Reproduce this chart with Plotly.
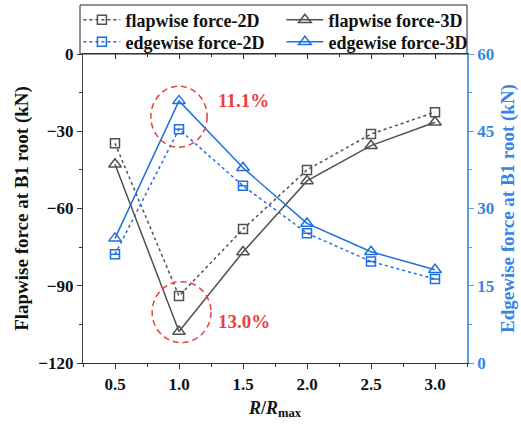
import plotly.graph_objects as go

r_ratio = [0.5, 1.0, 1.5, 2.0, 2.5, 3.0]
flap_2d = [-34.7, -94.0, -68.0, -45.0, -31.1, -22.6]
flap_3d = [-42.8, -107.8, -76.9, -49.3, -35.6, -26.5]
edge_2d = [21.1, 45.4, 34.4, 25.2, 19.7, 16.3]
edge_3d = [24.2, 50.9, 37.9, 27.1, 21.6, 18.1]
left_ticks = [0, -30, -60, -90, -120]
right_ticks = [0, 15, 30, 45, 60]
x_ticks = [0.5, 1.0, 1.5, 2.0, 2.5, 3.0]

GRAY = "#505050"
BLUE = "#1f6fe3"
AXBLUE = "#5b9be8"
LBLUE = "#3385e6"
RED = "#e8413f"
FONT = "Liberation Serif"

fig = go.Figure()
fig.add_trace(go.Scatter(x=r_ratio, y=flap_2d, name="<b>flapwise force-2D</b>", mode="lines+markers",
                         legend="legend",
                         line=dict(color=GRAY, width=1.5, dash="3px,3px"),
                         marker=dict(symbol="square-open", size=9, color=GRAY, line=dict(width=1.5))))
fig.add_trace(go.Scatter(x=r_ratio, y=flap_3d, name="<b>flapwise force-3D</b>", mode="lines+markers",
                         legend="legend",
                         line=dict(color=GRAY, width=1.5),
                         marker=dict(symbol="triangle-up-open", size=11, color=GRAY, line=dict(width=1.5))))
fig.add_trace(go.Scatter(x=r_ratio, y=edge_2d, name="<b>edgewise force-2D</b>", mode="lines+markers",
                         yaxis="y2", legend="legend2",
                         line=dict(color=BLUE, width=1.5, dash="3px,3px"),
                         marker=dict(symbol="square-open", size=9, color=BLUE, line=dict(width=1.5))))
fig.add_trace(go.Scatter(x=r_ratio, y=edge_3d, name="<b>edgewise force-3D</b>", mode="lines+markers",
                         yaxis="y2", legend="legend2",
                         line=dict(color=BLUE, width=1.5),
                         marker=dict(symbol="triangle-up-open", size=11, color=BLUE, line=dict(width=1.5))))
# horizontal bar inside the 2D edgewise squares
fig.add_trace(go.Scatter(x=r_ratio, y=edge_2d, yaxis="y2", mode="markers", showlegend=False, hoverinfo="skip",
                         marker=dict(symbol="line-ew-open", size=7, color=BLUE, line=dict(width=1.5, color=BLUE))))
# dummy trace to show the top axis
fig.add_trace(go.Scatter(x=[None], y=[None], xaxis="x2", showlegend=False, hoverinfo="skip"))

tickfont = dict(family=FONT, size=17, color="#111")
legend_common = dict(orientation="h", xanchor="left", yanchor="middle",
                     entrywidth=151, entrywidthmode="pixels", borderwidth=0,
                     bgcolor="rgba(0,0,0,0)",
                     font=dict(family=FONT, size=18, color="#111"), itemwidth=37)
fig.update_layout(
    width=521, height=430,
    margin=dict(l=83, r=54, t=54, b=67, autoexpand=False),
    plot_bgcolor="white", paper_bgcolor="white",
    font=dict(family=FONT, size=17, color="#111"),
    xaxis=dict(range=[0.25, 3.25], tickvals=x_ticks, ticktext=[f"<b>{v:.1f}</b>" for v in x_ticks],
               ticks="outside", ticklen=5, tickwidth=1.2, tickcolor="#333",
               minor=dict(dtick=0.25, ticks="outside", ticklen=3, tickcolor="#333"),
               showline=True, linecolor="#333", linewidth=1.2, showgrid=False, zeroline=False,
               tickfont=tickfont,
               title=dict(text="<b><i>R</i>/<i>R</i><sub>max</sub></b>", font=dict(family=FONT, size=18), standoff=8)),
    xaxis2=dict(range=[0.25, 3.25], overlaying="x", side="top", anchor="y", tickvals=x_ticks,
                showticklabels=False, ticks="inside", ticklen=5, tickcolor="#333",
                minor=dict(dtick=0.25, ticks="inside", ticklen=3, tickcolor="#333"),
                showline=True, linecolor="#333", linewidth=1.2, showgrid=False, zeroline=False),
    yaxis=dict(range=[-120, 0], tickvals=left_ticks, ticktext=[f"<b>{v}</b>".replace("-", "\u2212") for v in left_ticks],
               ticks="outside", ticklen=5, tickwidth=1.2, tickcolor="#333",
               minor=dict(dtick=15, ticks="outside", ticklen=3, tickcolor="#333"),
               showline=True, linecolor="#444", linewidth=1.2, showgrid=False, zeroline=False,
               tickfont=tickfont,
               title=dict(text="<b>Flapwise force at B1 root (kN)</b>", font=dict(family=FONT, size=19), standoff=4)),
    yaxis2=dict(range=[0, 60], tickvals=right_ticks, ticktext=[f"<b>{v}</b>" for v in right_ticks],
                overlaying="y", side="right",
                ticks="outside", ticklen=5, tickwidth=1.2, tickcolor=AXBLUE,
                minor=dict(dtick=7.5, ticks="outside", ticklen=3, tickcolor=AXBLUE),
                showline=True, linecolor=AXBLUE, linewidth=1.5, showgrid=False, zeroline=False,
                tickfont=dict(family=FONT, size=17, color=LBLUE),
                title=dict(text="<b>Edgewise force at B1 root (kN)</b>", font=dict(family=FONT, size=19, color=LBLUE), standoff=8)),
    legend=dict(x=-0.012, y=1 + 34 / 309, **legend_common),
    legend2=dict(x=-0.012, y=1 + 12 / 309, **legend_common),
    shapes=[
        dict(type="rect", xref="paper", yref="paper", x0=-3 / 384, x1=1.0, y0=1.0, y1=1 + 49 / 309,
             line=dict(color="#222", width=1), fillcolor="rgba(0,0,0,0)", layer="below"),
        dict(type="circle", xref="x", yref="y", x0=0.78, x1=1.22, y0=-12.5, y1=-36.2,
             line=dict(color=RED, width=1.5, dash="6px,4px")),
        dict(type="circle", xref="x", yref="y", x0=0.79, x1=1.25, y0=-88.4, y1=-112.1,
             line=dict(color=RED, width=1.5, dash="6px,4px")),
    ],
    annotations=[
        dict(x=1.5, y=-18.0, xref="x", yref="y", text="<b>11.1%</b>", showarrow=False,
             font=dict(family=FONT, size=19, color=RED)),
        dict(x=1.51, y=-103.8, xref="x", yref="y", text="<b>13.0%</b>", showarrow=False,
             font=dict(family=FONT, size=19, color=RED)),
    ],
)
fig.write_html("out.html", config={"displayModeBar": False},
               post_script="document.body.style.margin='0';document.body.style.padding='0';")
